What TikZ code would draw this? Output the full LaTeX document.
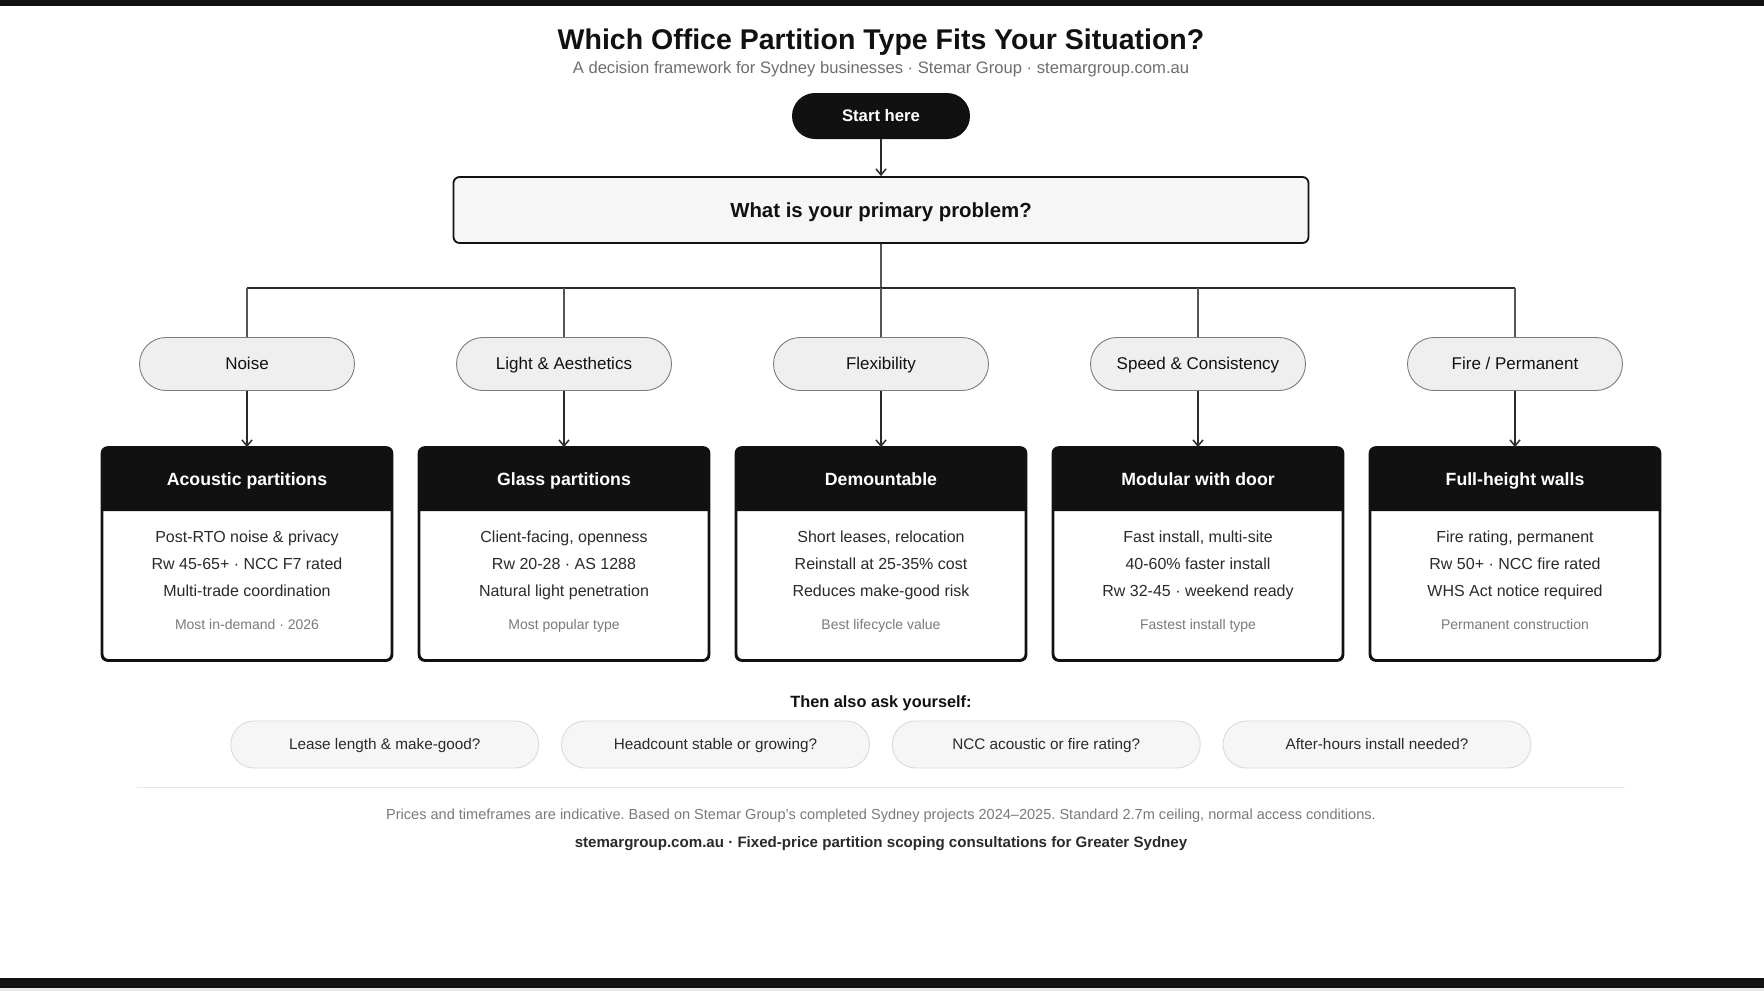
\documentclass[tikz,border=0pt]{standalone}
\usepackage{fontspec}
\setmainfont{Liberation Sans}
\usetikzlibrary{arrows.meta}
\definecolor{ink}{HTML}{111111}
\definecolor{txt}{HTML}{2A2A2A}
\definecolor{mute}{HTML}{7A7A7A}
\definecolor{branch}{HTML}{555555}
\definecolor{pillfill}{HTML}{EFEFEF}
\definecolor{pillline}{HTML}{7C7C7C}
\definecolor{qfill}{HTML}{F6F6F6}
\definecolor{qline}{HTML}{DADADA}
\definecolor{sep}{HTML}{E8E8E8}
\newcommand{\fs}[1]{\fontsize{#1}{#1}\selectfont}
\frenchspacing
\tikzset{
  conn/.style={draw=txt, line width=1.3pt},
  drop/.style={draw=branch, line width=1.7pt},
  arr/.style={draw=txt, line width=1.5pt, -{Straight Barb[length=6pt,width=10pt,line width=1.5pt]}},
  cat/.style={draw=pillline, fill=pillfill, line width=0.9pt, rounded corners=26.5pt,
    minimum width=215pt, minimum height=53pt, inner sep=0pt, font=\fs{17}, text=ink,
    text height=11.9pt, text depth=0pt},
  resbox/.style={draw=ink, fill=white, line width=1.8pt, rounded corners=6pt,
    minimum width=289pt, minimum height=212pt, inner sep=0pt},
  head/.style={font=\bfseries\fs{17.7}, text=white, text height=12.4pt, text depth=0pt},
  bodyline/.style={font=\fs{16}, text=txt, text height=11.2pt, text depth=0pt},
  tagline/.style={font=\fs{14}, text=mute, text height=9.8pt, text depth=0pt},
  askpill/.style={draw=qline, fill=qfill, line width=0.9pt, rounded corners=23.5pt,
    minimum width=308pt, minimum height=47pt, inner sep=0pt, font=\fs{15.3}, text=txt,
    text height=10.7pt, text depth=0pt},
}
\begin{document}
\begin{tikzpicture}[x=1pt,y=-1pt]
\useasboundingbox (0,0) rectangle (1764,991);
\fill[white] (0,0) rectangle (1764,991);
\fill[ink] (0,0) rectangle (1764,6);
\fill[ink] (0,978) rectangle (1764,988);
\fill[sep] (0,988) rectangle (1764,991);

\node[font=\bfseries\fs{28.5}, text=ink, text height=19.95pt, text depth=0pt] (title) at (881,40) {Which Office Partition Type Fits Your Situation?};
\node[font=\fs{16.6}, text=mute!90!black, text height=11.6pt, text depth=0pt] (sub) at (881,67.5) {A decision framework for Sydney businesses · Stemar Group · stemargroup.com.au};

\node[fill=ink, rounded corners=23pt, minimum width=178pt, minimum height=46pt, inner sep=0pt,
  font=\bfseries\fs{16.7}, text=white, text height=11.7pt, text depth=0pt] (start) at (881,116) {Start here};

\node[draw=ink, fill=qfill, line width=1.8pt, rounded corners=6pt, minimum width=855pt,
  minimum height=66pt, inner sep=0pt, font=\bfseries\fs{20.4}, text=ink,
  text height=14.3pt, text depth=0pt] (q) at (881,210) {What is your primary problem?};

\draw[arr] (start.south) -- (q.north);

\coordinate (j) at (881,288);
\draw[drop] (q.south) -- (j);
\draw[conn] (247,288) coordinate (jl) -- (1515,288) coordinate (jr);

\foreach \i/\x/\cat/\head/\la/\lb/\lc/\tg in {
  1/247/Noise/Acoustic partitions/Post-RTO noise \& privacy/Rw 45-65+ · NCC F7 rated/Multi-trade coordination/Most in-demand · 2026,
  2/564/Light \& Aesthetics/Glass partitions/{Client-facing, openness}/Rw 20-28 · AS 1288/Natural light penetration/Most popular type,
  3/881/Flexibility/Demountable/{Short leases, relocation}/Reinstall at 25-35\% cost/Reduces make-good risk/Best lifecycle value,
  4/1198/Speed \& Consistency/Modular with door/{Fast install, multi-site}/40-60\% faster install/Rw 32-45 · weekend ready/Fastest install type,
  5/1515/{Fire / Permanent}/Full-height walls/{Fire rating, permanent}/Rw 50+ · NCC fire rated/WHS Act notice required/Permanent construction}
{
  \coordinate (b\i) at (\x,288);
  \node[cat] (p\i) at (\x,364) {\cat};
  \draw[drop] (b\i) -- (p\i.north);
  \node[resbox] (r\i) at (\x,554) {};
  \fill[ink, rounded corners=6pt] (\x-144.5,511) -- (\x-144.5,448) -- (\x+144.5,448) [sharp corners] -- (\x+144.5,511) -- cycle;
  \draw[ink, line width=1.8pt, rounded corners=6pt] (r\i.south west) rectangle (r\i.north east);
  \node[head] (h\i) at (\x,479.5) {\head};
  \node[bodyline] (la\i) at (\x,537) {\la};
  \node[bodyline] (lb\i) at (\x,564) {\lb};
  \node[bodyline] (lc\i) at (\x,591) {\lc};
  \node[tagline] (t\i) at (\x,625) {\tg};
  \draw[arr] (p\i.south) -- (r\i.north);
}

\node[font=\bfseries\fs{16.3}, text=ink, text height=11.4pt, text depth=0pt] (ask) at (881,702) {Then also ask yourself:};
\node[askpill] (a1) at (384.75,744.5) {Lease length \& make-good?};
\node[askpill] (a2) at (715.5,744.5) {Headcount stable or growing?};
\node[askpill] (a3) at (1046.25,744.5) {NCC acoustic or fire rating?};
\node[askpill] (a4) at (1377,744.5) {After-hours install needed?};

\draw[sep, line width=1.2pt] (137,787.5) coordinate (s1) -- (1625,787.5) coordinate (s2);

\node[font=\fs{14.55}, text=mute, text height=10.2pt, text depth=0pt] (note) at (881,814.5) {Prices and timeframes are indicative. Based on Stemar Group's completed Sydney projects 2024–2025. Standard 2.7m ceiling, normal access conditions.};
\node[font=\bfseries\fs{15.1}, text=txt, text height=10.6pt, text depth=0pt] (foot) at (881,842.5) {stemargroup.com.au · Fixed-price partition scoping consultations for Greater Sydney};
\end{tikzpicture}
\end{document}
